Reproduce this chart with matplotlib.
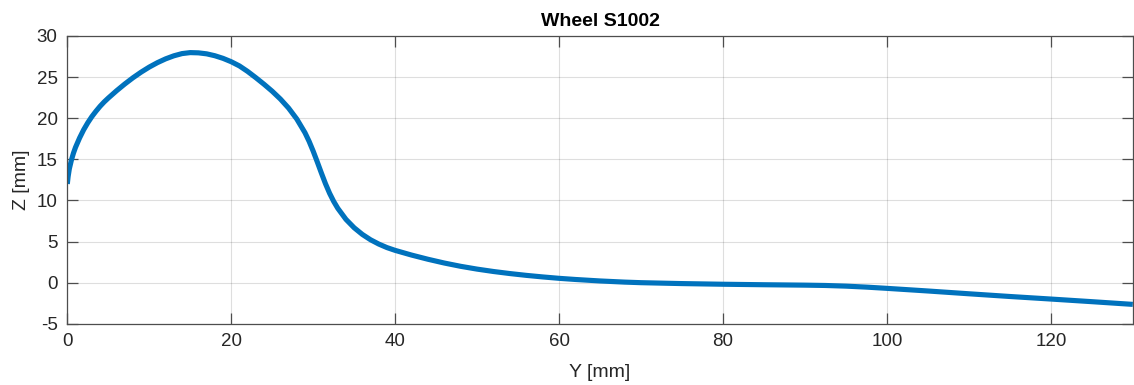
import matplotlib
matplotlib.use("Agg")
import matplotlib.pyplot as plt

# Profile data
y_mm = [0, 0.1, 0.25, 0.5, 0.75, 1.0, 1.5, 2.0, 2.5, 3, 3.5, 4, 4.5, 5, 6, 7,
        8, 9, 10, 11, 12, 13, 14, 15, 16, 17, 18, 19, 20, 21, 22, 23, 24, 25,
        26, 27, 28, 29, 29.5, 30, 30.5, 31, 31.5, 32, 32.5, 33, 34, 35, 36, 37,
        38, 39, 40, 42, 44, 46, 48, 50, 52, 54, 56, 58, 60, 62, 65, 68, 70, 75,
        80, 85, 90, 92.5, 95, 97.5, 100, 105, 110, 115, 120, 125, 130]
z_mm = [12.0, 12.9, 13.85, 14.9, 15.75, 16.45, 17.6, 18.6, 19.45, 20.2, 20.85,
        21.45, 21.98, 22.45, 23.33, 24.15, 24.91, 25.6, 26.22, 26.76, 27.22,
        27.59, 27.86, 27.98, 27.95, 27.83, 27.6, 27.28, 26.87, 26.36, 25.69,
        24.93, 24.13, 23.28, 22.33, 21.23, 19.9, 18.23, 17.19, 15.99, 14.68,
        13.33, 12.03, 10.87, 9.88, 9.04, 7.69, 6.67, 5.86, 5.21, 4.69, 4.26,
        3.92, 3.35, 2.84, 2.38, 1.98, 1.64, 1.35, 1.1, 0.88, 0.69, 0.52, 0.38,
        0.2, 0.06, -0.01, -0.12, -0.2, -0.26, -0.31, -0.35, -0.43, -0.55,
        -0.7, -1.02, -1.36, -1.69, -2.0, -2.32, -2.65]

x_ticks = [0, 20, 40, 60, 80, 100, 120]
y_ticks = [-5, 0, 5, 10, 15, 20, 25, 30]

plt.rcParams['font.family'] = ['Liberation Sans', 'DejaVu Sans']
plt.rcParams['axes.unicode_minus'] = False

fig = plt.figure(figsize=(11.34, 3.85), dpi=100)
ax = fig.add_axes([67.3 / 1134, (385 - 323.7) / 385, 1065.5 / 1134, 287.7 / 385])

ax.plot(y_mm, z_mm, color='#0072BD', linewidth=3.7, solid_capstyle='butt',
        solid_joinstyle='round')

ax.set_xlim(0, 130)
ax.set_ylim(-5, 30)
ax.set_xticks(x_ticks)
ax.set_yticks(y_ticks)

dark = '#262626'
ax.grid(True, color='#000000', alpha=0.13, linewidth=0.8)
ax.set_axisbelow(True)
for s in ax.spines.values():
    s.set_color('#4d4d4d')
    s.set_linewidth(0.9)
ax.tick_params(direction='in', length=7.7, width=0.9, color='#4d4d4d',
               labelsize=13.5, labelcolor=dark, top=True, right=True, pad=7)

ax.set_xlabel('Y [mm]', fontsize=14, color=dark, labelpad=10)
ax.set_ylabel('Z [mm]', fontsize=14, color=dark, labelpad=5)
ax.set_title('Wheel S1002', fontsize=14, fontweight='bold', color='black', pad=7)

fig.savefig('out.png', dpi=100)
